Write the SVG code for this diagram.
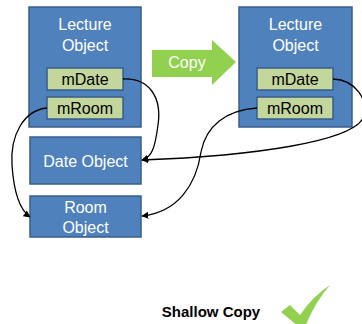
<svg xmlns="http://www.w3.org/2000/svg" width="362" height="324" viewBox="0 0 362 324">
  <style>
    .obj { fill: #4F81BD; stroke: #385D8A; stroke-width: 1.5; }
    .fld { fill: #C3D69B; stroke: #385D8A; stroke-width: 1.5; }
    .wt { fill: #FFFFFF; font-family: "Liberation Sans", Arial, sans-serif; font-size: 16px; text-anchor: middle; }
    .bk { fill: #000000; font-family: "Liberation Sans", Arial, sans-serif; font-size: 16px; text-anchor: middle; }
    .link { fill: none; stroke: #000000; stroke-width: 1.3; }
  </style>
  <defs>
    <marker id="tip" viewBox="0 0 10 10" refX="9" refY="5" markerWidth="7" markerHeight="7" markerUnits="userSpaceOnUse" orient="auto">
      <path d="M0,0 L10,5 L0,10 Z" fill="#000000"/>
    </marker>
  </defs>

  <!-- original lecture object -->
  <g id="lecture-left">
    <rect class="obj" x="29" y="7" width="112" height="120"/>
    <text class="wt" x="85" y="30">Lecture</text>
    <text class="wt" x="85" y="51">Object</text>
    <g id="left-mDate">
      <rect class="fld" x="47" y="68" width="76" height="22"/>
      <text class="bk" x="85" y="85">mDate</text>
    </g>
    <g id="left-mRoom">
      <rect class="fld" x="47" y="97" width="76" height="22"/>
      <text class="bk" x="85" y="114">mRoom</text>
    </g>
  </g>

  <!-- copied lecture object -->
  <g id="lecture-right">
    <rect class="obj" x="239" y="7" width="113" height="120"/>
    <text class="wt" x="295.5" y="30">Lecture</text>
    <text class="wt" x="295.5" y="51">Object</text>
    <g id="right-mDate">
      <rect class="fld" x="257" y="68" width="76" height="22"/>
      <text class="bk" x="295" y="85">mDate</text>
    </g>
    <g id="right-mRoom">
      <rect class="fld" x="257" y="97" width="76" height="22"/>
      <text class="bk" x="295" y="114">mRoom</text>
    </g>
  </g>

  <g id="date-object">
    <rect class="obj" x="30" y="137" width="111" height="47"/>
    <text class="wt" x="85.5" y="167">Date Object</text>
  </g>

  <g id="room-object">
    <rect class="obj" x="30" y="196" width="111" height="41"/>
    <text class="wt" x="85.5" y="213">Room</text>
    <text class="wt" x="85.5" y="233">Object</text>
  </g>

  <!-- copy arrow -->
  <g id="copy-arrow">
    <path d="M152,50 L212,50 L212,40 L236,62 L212,85 L212,77 L152,77 Z" fill="#92D050"/>
    <text class="wt" x="187" y="68">Copy</text>
  </g>

  <!-- references -->
  <g id="connectors">
    <path class="link" d="M123,79 C150,78 162,98 158,125 C155,148 152,157 142,160" marker-end="url(#tip)"/>
    <path class="link" d="M47,108 C24,110 10,135 12,165 C14,195 20,210 30,217" marker-end="url(#tip)"/>
    <path class="link" d="M333,79 C356,80 368,100 364,116 C356,142 250,156 142,160" marker-end="url(#tip)"/>
    <path class="link" d="M257,108 C226,110 206,126 201,152 C196,185 178,212 142,216" marker-end="url(#tip)"/>
  </g>

  <g id="caption">
    <text x="211" y="317" font-family="'Liberation Sans', Arial, sans-serif" font-size="15" font-weight="bold" text-anchor="middle" fill="#000000">Shallow Copy</text>
    <path d="M281,312 L290,305 L300,315 Q312,297 330,285 Q315,302 305,327 L299,327 Z" fill="#92D050"/>
  </g>
</svg>
